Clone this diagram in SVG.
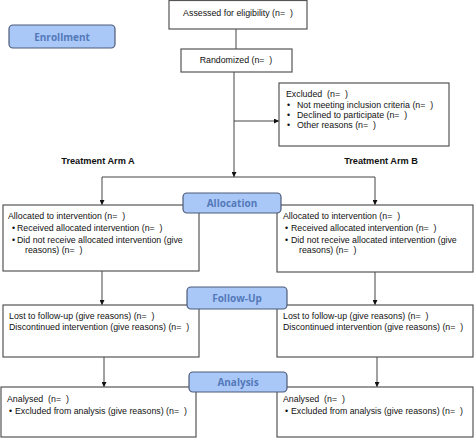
<svg xmlns="http://www.w3.org/2000/svg" width="474" height="440" viewBox="0 0 474 440">
<style>
.box{fill:#fff;stroke:#555;stroke-width:1.2}
.lbl{fill:#a9c8f8;stroke:#4d5a78;stroke-width:1.2}
.lt{font-family:"Open Sans","Liberation Sans",sans-serif;font-weight:bold;font-size:10px;fill:#5479b8;text-anchor:middle}
.t{font-family:"Liberation Sans",Arial,sans-serif;font-size:8.8px;fill:#111;white-space:pre}
.c{text-anchor:middle}
.arm{font-family:"Liberation Sans",Arial,sans-serif;font-size:9.2px;font-weight:bold;fill:#111;text-anchor:middle}
.ln{stroke:#444;stroke-width:1;fill:none}
</style>
<defs>
<marker id="ah" viewBox="0 0 10 10" refX="10" refY="5" markerWidth="5" markerHeight="5" orient="auto">
<path d="M0,0 L10,5 L0,10 z" fill="#111"/>
</marker>
</defs>
<rect width="474" height="440" fill="#fff"/>
<g id="connectors">
<path class="ln" d="M236,29 V49"/>
<path class="ln" d="M234,72 V177" marker-end="url(#ah)"/>
<path class="ln" d="M234,121 H279" marker-end="url(#ah)"/>
<path class="ln" d="M102,177 H375"/>
<path class="ln" d="M102,177 V205" marker-end="url(#ah)"/>
<path class="ln" d="M375,177 V205" marker-end="url(#ah)"/>
<path class="ln" d="M102,271 V305" marker-end="url(#ah)"/>
<path class="ln" d="M375,272 V305" marker-end="url(#ah)"/>
<path class="ln" d="M104,357 V387" marker-end="url(#ah)"/>
<path class="ln" d="M377,357 V387" marker-end="url(#ah)"/>
</g>
<g id="enrollment">
<rect class="lbl" x="9" y="25" width="106" height="23" rx="4"/>
<text class="lt" x="62" y="40.5">Enrollment</text>
</g>
<g id="assessed">
<rect class="box" x="169" y="0.5" width="138" height="28.5"/>
<text class="t c" x="238" y="16" xml:space="preserve">Assessed for eligibility (n=  )</text>
</g>
<g id="randomized">
<rect class="box" x="181" y="49" width="111" height="23"/>
<text class="t c" x="236" y="63" xml:space="preserve">Randomized (n=  )</text>
</g>
<g id="excluded">
<rect class="box" x="279" y="83" width="170" height="63"/>
<text class="t" x="286" y="97" xml:space="preserve">Excluded  (n=  )</text>
<text class="t" x="287" y="108">•</text><text class="t" x="297" y="108" xml:space="preserve">Not meeting inclusion criteria (n=  )</text>
<text class="t" x="287" y="118">•</text><text class="t" x="297" y="118" xml:space="preserve">Declined to participate (n=  )</text>
<text class="t" x="287" y="128">•</text><text class="t" x="297" y="128" xml:space="preserve">Other reasons (n=  )</text>
</g>
<g id="armA"><text class="arm" x="98" y="164">Treatment Arm A</text></g>
<g id="armB"><text class="arm" x="381" y="164">Treatment Arm B</text></g>
<g id="allocA">
<rect class="box" x="3" y="205" width="196" height="66"/>
<text class="t" x="8" y="219" xml:space="preserve">Allocated to intervention (n=  )</text>
<text class="t" x="12" y="231">•</text><text class="t" x="17" y="231" xml:space="preserve">Received allocated intervention (n=  )</text>
<text class="t" x="12" y="243">•</text><text class="t" x="17" y="243">Did not receive allocated intervention (give</text>
<text class="t" x="25" y="253" xml:space="preserve">reasons) (n=  )</text>
</g>
<g id="allocB">
<rect class="box" x="277" y="205" width="196" height="67"/>
<text class="t" x="283" y="219" xml:space="preserve">Allocated to intervention (n=  )</text>
<text class="t" x="285" y="231">•</text><text class="t" x="291" y="231" xml:space="preserve">Received allocated intervention (n=  )</text>
<text class="t" x="285" y="243">•</text><text class="t" x="291" y="243">Did not receive allocated intervention (give</text>
<text class="t" x="299" y="253" xml:space="preserve">reasons) (n=  )</text>
</g>
<g id="allocation">
<rect class="lbl" x="183" y="193" width="98" height="20" rx="4"/>
<text class="lt" x="232" y="206.5">Allocation</text>
</g>
<g id="followA">
<rect class="box" x="3" y="305" width="196" height="52"/>
<text class="t" x="9" y="319" xml:space="preserve">Lost to follow-up (give reasons) (n=  )</text>
<text class="t" x="9" y="330" xml:space="preserve">Discontinued intervention (give reasons) (n=  )</text>
</g>
<g id="followB">
<rect class="box" x="277" y="305" width="196" height="52"/>
<text class="t" x="283" y="319" xml:space="preserve">Lost to follow-up (give reasons) (n=  )</text>
<text class="t" x="283" y="330" xml:space="preserve">Discontinued intervention (give reasons) (n=  )</text>
</g>
<g id="followup">
<rect class="lbl" x="187" y="287" width="100" height="22" rx="4"/>
<text class="lt" x="237" y="301.5">Follow-Up</text>
</g>
<g id="analysisA">
<rect class="box" x="1" y="387" width="195" height="50"/>
<text class="t" x="7" y="402" xml:space="preserve">Analysed  (n=  )</text>
<text class="t" x="9" y="414">•</text><text class="t" x="15" y="414" xml:space="preserve">Excluded from analysis (give reasons) (n=  )</text>
</g>
<g id="analysisB">
<rect class="box" x="277" y="387" width="196" height="50"/>
<text class="t" x="283" y="402" xml:space="preserve">Analysed  (n=  )</text>
<text class="t" x="285" y="414">•</text><text class="t" x="291" y="414" xml:space="preserve">Excluded from analysis (give reasons) (n=  )</text>
</g>
<g id="analysis">
<rect class="lbl" x="189" y="372" width="98" height="20" rx="4"/>
<text class="lt" x="238" y="385.5">Analysis</text>
</g>
</svg>
